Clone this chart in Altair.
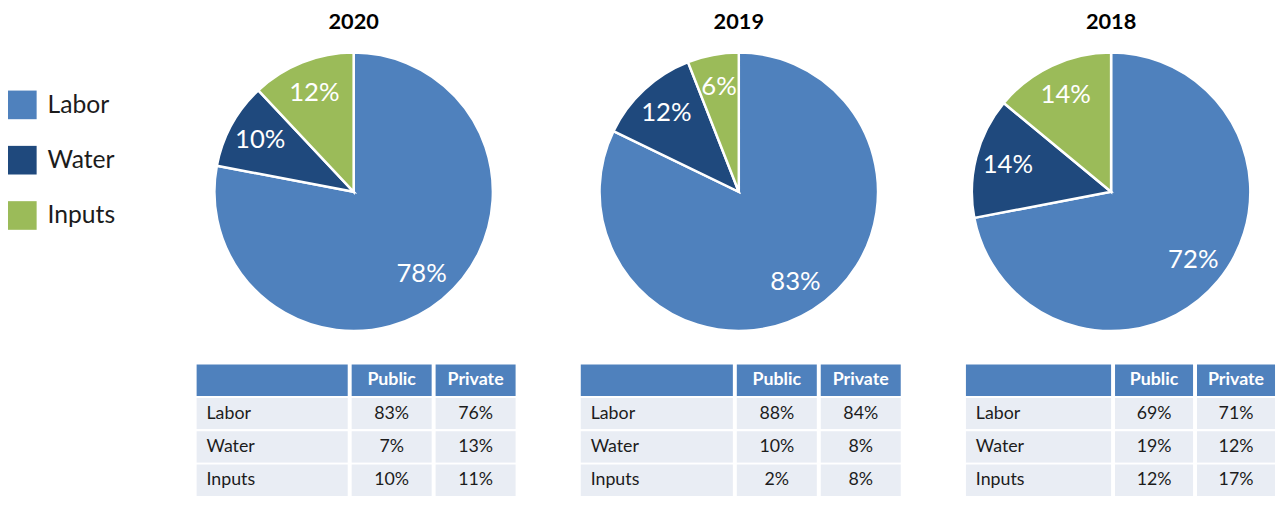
import altair as alt
import pandas as pd

# ---------------- data ----------------
years = ["2020", "2019", "2018"]
categories = ["Labor", "Water", "Inputs"]
pie_2020 = [78, 10, 12]
pie_2019 = [83, 12, 6]
pie_2018 = [72, 14, 14]
table_columns = ["Public", "Private"]
public_2020 = [83, 7, 10]
private_2020 = [76, 13, 11]
public_2019 = [88, 10, 2]
private_2019 = [84, 8, 8]
public_2018 = [69, 19, 12]
private_2018 = [71, 12, 17]

# ---------------- style ----------------
colors = ["#4f81bd", "#1f497d", "#9bbb59"]
FONT = "Lato"
HEADER = "#4f81bd"
BODY = "#e9edf4"
TEXT = "#1c1c1c"

color_scale = alt.Scale(domain=categories, range=colors)
row_domain = ["header"] + categories


def pie(year, values, width):
    df = pd.DataFrame({
        "category": categories,
        "value": values,
        "idx": list(range(len(categories))),
        "label": [f"{v}%" for v in values],
    })
    base = alt.Chart(df).encode(
        theta=alt.Theta("value:Q", stack=True),
        order=alt.Order("idx:Q"),
    )
    arc = base.mark_arc(radius=141, stroke="white", strokeWidth=2.5).encode(
        color=alt.Color("category:N", scale=color_scale, legend=None)
    )
    txt = base.mark_text(radius=108, fontSize=26, font=FONT, color="white").encode(
        text="label:N"
    )
    return alt.layer(arc, txt).properties(
        width=width,
        height=306,
        title=alt.Title(year, fontSize=22, font=FONT, fontWeight="bold",
                        color="black", offset=7, anchor="middle"),
    )


def table_col(header, texts, width, is_label):
    df = pd.DataFrame({"row": row_domain, "text": [header] + texts})
    y = alt.Y("row:N", sort=row_domain, axis=None,
              scale=alt.Scale(paddingInner=0, paddingOuter=0))
    is_head = "datum.row == 'header'"
    rect = alt.Chart(df).mark_rect(stroke="white", strokeWidth=2).encode(
        y=y,
        color=alt.condition(is_head, alt.value(HEADER), alt.value(BODY)),
    )
    align = "left" if is_label else "center"
    head_txt = alt.Chart(df).transform_filter(is_head).mark_text(
        align=align, baseline="middle", fontSize=18, font=FONT,
        fontWeight="bold", color="white")
    body_txt = alt.Chart(df).transform_filter("datum.row != 'header'").mark_text(
        align=align, baseline="middle", fontSize=18, font=FONT, color=TEXT)
    if is_label:
        head_txt = head_txt.encode(x=alt.value(11), y=y, text="text:N")
        body_txt = body_txt.encode(x=alt.value(11), y=y, text="text:N")
    else:
        head_txt = head_txt.encode(y=y, text="text:N")
        body_txt = body_txt.encode(y=y, text="text:N")
    return alt.layer(rect, head_txt, body_txt).properties(width=width, height=135)


def table(public, private, widths):
    cols = [
        table_col("", categories, widths[0], True),
        table_col(table_columns[0], [f"{v}%" for v in public], widths[1], False),
        table_col(table_columns[1], [f"{v}%" for v in private], widths[2], False),
    ]
    return alt.hconcat(*cols, spacing=0)


def column(year, values, public, private, pie_width, widths):
    return alt.vconcat(pie(year, values, pie_width), table(public, private, widths),
                       spacing=20)


# legend panel
leg_df = pd.DataFrame({"category": categories})
ly = alt.Y("category:N", sort=categories, axis=None,
           scale=alt.Scale(type="point", range=[65, 177], padding=0))
sq = alt.Chart(leg_df).mark_square(size=841, opacity=1).encode(
    x=alt.value(14.5), y=ly,
    color=alt.Color("category:N", scale=color_scale, legend=None),
)
lt = alt.Chart(leg_df).mark_text(align="left", baseline="middle", fontSize=25,
                                 font=FONT, color=TEXT).encode(
    x=alt.value(40), y=ly, text="category:N"
)
legend = alt.layer(sq, lt).properties(width=127, height=300)

chart = alt.hconcat(
    legend,
    column(years[0], pie_2020, public_2020, private_2020, 320, [155, 83, 83]),
    column(years[1], pie_2019, public_2019, private_2019, 322, [156, 83, 83]),
    column(years[2], pie_2018, public_2018, private_2018, 296, [149, 81, 81]),
    spacing=62,
).resolve_scale(theta="independent").properties(
    padding=0, background="white"
).configure_view(stroke=None)

chart.save("out.html", embed_options={"renderer": "svg", "actions": False})
